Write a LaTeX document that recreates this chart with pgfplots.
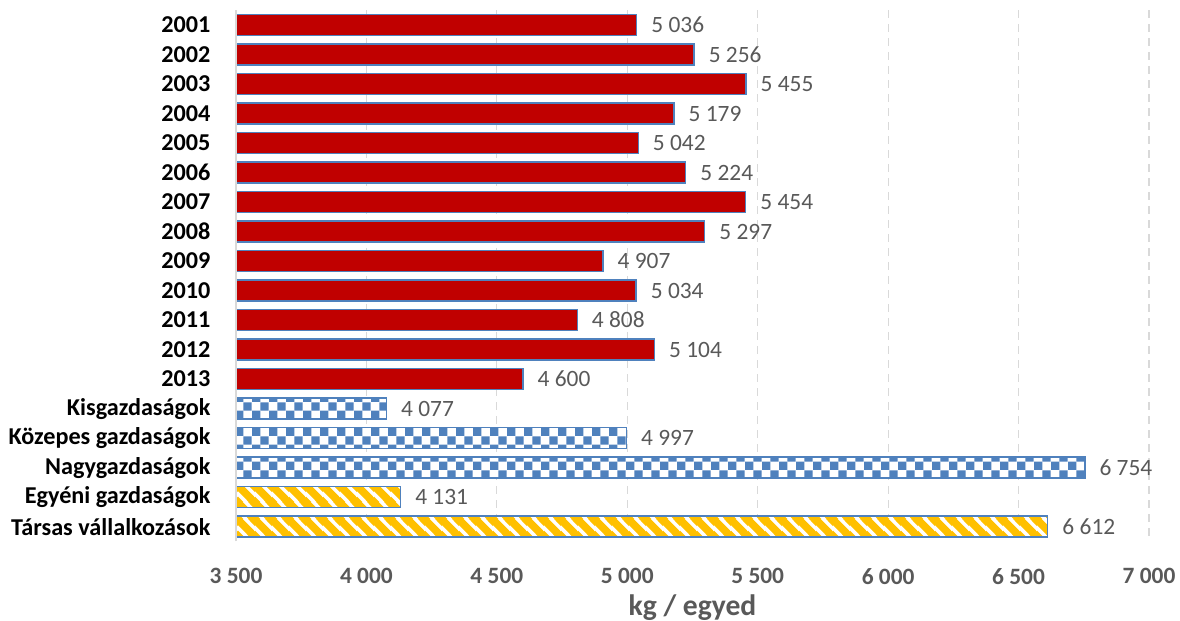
\documentclass[border=0pt]{standalone}
\usepackage{fontspec}
\setmainfont{Carlito}
\usepackage{pgfplots}
\pgfplotsset{compat=1.18}
\usetikzlibrary{patterns.meta}
\definecolor{barred}{RGB}{192,0,0}
\definecolor{barblue}{RGB}{79,129,189}
\definecolor{baryellow}{RGB}{255,192,0}
\definecolor{labgray}{RGB}{89,89,89}
\definecolor{gridgray}{RGB}{217,217,217}
\tikzdeclarepattern{
  name=mycheck,
  type=uncolored,
  bounding box={(0,0) and (8.4pt,8.4pt)},
  tile size={(8.4pt,8.4pt)},
  code={
    \fill (0pt,0pt) rectangle (4.2pt,4.2pt);
    \fill (4.2pt,4.2pt) rectangle (8.4pt,8.4pt);
  }
}
\tikzdeclarepattern{
  name=ystripes,
  type=uncolored,
  bounding box={(0,0) and (8.5pt,8.5pt)},
  tile size={(8.5pt,8.5pt)},
  code={
    \draw[line width=4pt] (-1pt,9.5pt) -- (9.5pt,-1pt);
    \draw[line width=4pt] (-3pt,3pt) -- (3pt,-3pt);
    \draw[line width=4pt] (5.5pt,11.5pt) -- (11.5pt,5.5pt);
  }
}
\begin{document}
\begin{tikzpicture}
\begin{axis}[
  name=ax,
  scale only axis,
  width=456.5pt, height=265.6pt,
  xmin=3500, xmax=7000,
  ymin=-0.5, ymax=17.5,
  y dir=reverse,
  xbar, bar width=10.5pt,
  xtick={3500,4000,...,7000},
  ytick={0,...,17},
  yticklabels={2001,2002,2003,2004,2005,2006,2007,2008,2009,2010,2011,2012,2013,Kisgazdaságok,Közepes gazdaságok,Nagygazdaságok,Egyéni gazdaságok,Társas vállalkozások},
  xmajorgrids,
  grid style={gridgray, dash pattern=on 4pt off 3pt, line width=0.6pt},
  axis line style={draw=none},
  tick style={draw=none},
  /pgf/number format/assume math mode=true,
  /pgf/number format/1000 sep={\ },
  xticklabel style={font=\fontsize{11.7}{13}\selectfont\bfseries, text=labgray, yshift=-10pt},
  yticklabel style={font=\fontsize{12.1}{13}\selectfont\bfseries, text=black, xshift=-5pt},
  xlabel={kg / egyed},
  xlabel style={font=\fontsize{14.8}{17}\selectfont\bfseries, text=labgray, at={(axis description cs:0.5,0)}, anchor=center, yshift=-33pt},
  point meta=x,
  nodes near coords={\pgfmathprintnumber[fixed,precision=0,1000 sep={\ }]{\pgfplotspointmeta}},
  nodes near coords style={font=\fontsize{11.7}{13}\selectfont, text=labgray, anchor=west, inner sep=0pt, xshift=7pt},
]
\addplot[bar shift=0pt, fill=barred, draw=barblue, line width=0.7pt] coordinates {
(5036,0) (5256,1) (5455,2) (5179,3) (5042,4) (5224,5) (5454,6) (5297,7) (4907,8) (5034,9) (4808,10) (5104,11) (4600,12)};
\addplot[bar shift=0pt, preaction={fill=white}, pattern=mycheck, pattern color=barblue, draw=barblue, line width=0.7pt] coordinates {
(4077,13) (4997,14) (6754,15)};
\addplot[bar shift=0pt, preaction={fill=white}, pattern=ystripes, pattern color=baryellow, draw=barblue, line width=0.7pt] coordinates {
(4131,16) (6612,17)};
\end{axis}
\draw[gridgray, line width=0.7pt] (ax.south west) -- (ax.north west);
\pgfresetboundingbox
\path ([xshift=-118pt,yshift=-39.6pt]ax.south west) rectangle ([xshift=15.5pt,yshift=5.1pt]ax.north east);
\end{tikzpicture}
\end{document}
